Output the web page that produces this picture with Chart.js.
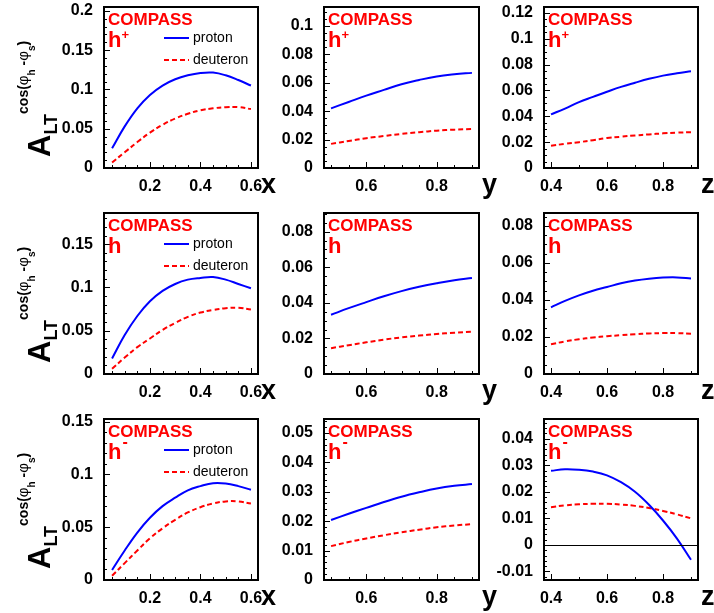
<!DOCTYPE html>
<html>
<head>
<meta charset="utf-8">
<script src="https://cdn.jsdelivr.net/npm/chart.js@4.4.0/dist/chart.umd.min.js"></script>
<style>
  html, body { margin: 0; padding: 0; background: #fff; overflow: hidden; }
  #wrap { position: relative; width: 714px; height: 613px; }
  #wrap canvas { position: absolute; }
</style>
</head>
<body>
<div id="wrap"></div>
<script>
// kinematic grids the curves are sampled on
const xGrid = [0.05, 0.10, 0.15, 0.20, 0.25, 0.30, 0.35, 0.40, 0.45, 0.50, 0.55, 0.60];
const yGrid = [0.50, 0.55, 0.60, 0.65, 0.70, 0.75, 0.80, 0.85, 0.90];
const zGrid = [0.40, 0.45, 0.50, 0.55, 0.60, 0.65, 0.70, 0.75, 0.80, 0.85, 0.90];

// h+
const hPlusProtonX    = [0.025, 0.053, 0.076, 0.093, 0.105, 0.113, 0.118, 0.121, 0.1215, 0.118, 0.112, 0.105];
const hPlusDeuteronX  = [0.007, 0.020, 0.033, 0.045, 0.055, 0.063, 0.069, 0.0735, 0.076, 0.0775, 0.0775, 0.075];
const hPlusProtonY    = [0.042, 0.0465, 0.051, 0.055, 0.059, 0.062, 0.0645, 0.066, 0.067];
const hPlusDeuteronY  = [0.017, 0.019, 0.021, 0.0225, 0.024, 0.0252, 0.0263, 0.027, 0.0275];
const hPlusProtonZ    = [0.0415, 0.046, 0.051, 0.055, 0.059, 0.0628, 0.066, 0.069, 0.0715, 0.0733, 0.0748];
const hPlusDeuteronZ  = [0.0173, 0.0187, 0.020, 0.0215, 0.0232, 0.0242, 0.0252, 0.026, 0.0268, 0.0274, 0.0277];

// h (all charged hadrons)
const hProtonX    = [0.018, 0.045, 0.067, 0.084, 0.096, 0.104, 0.109, 0.111, 0.112, 0.109, 0.104, 0.099];
const hDeuteronX  = [0.006, 0.019, 0.031, 0.041, 0.051, 0.059, 0.066, 0.071, 0.074, 0.076, 0.0765, 0.0745];
const hProtonY    = [0.0333, 0.037, 0.0404, 0.0437, 0.0466, 0.049, 0.051, 0.0527, 0.0539];
const hDeuteronY  = [0.0145, 0.0162, 0.0178, 0.0193, 0.0206, 0.0216, 0.0225, 0.0232, 0.0238];
const hProtonZ    = [0.036, 0.0395, 0.0425, 0.045, 0.047, 0.049, 0.0505, 0.0515, 0.0521, 0.0522, 0.0516];
const hDeuteronZ  = [0.0161, 0.0176, 0.0188, 0.0197, 0.0204, 0.021, 0.0215, 0.0219, 0.0221, 0.0221, 0.0218];

// h-
const hMinusProtonX   = [0.0095, 0.028, 0.045, 0.059, 0.070, 0.078, 0.085, 0.089, 0.0918, 0.0915, 0.089, 0.0855];
const hMinusDeuteronX = [0.004, 0.016, 0.028, 0.0395, 0.049, 0.057, 0.064, 0.069, 0.0725, 0.0745, 0.0745, 0.0725];
const hMinusProtonY   = [0.0204, 0.0225, 0.0245, 0.0265, 0.0283, 0.0298, 0.0311, 0.032, 0.0326];
const hMinusDeuteronY = [0.0115, 0.0129, 0.0141, 0.0152, 0.0162, 0.0171, 0.0179, 0.0185, 0.019];
const hMinusProtonZ   = [0.0279, 0.0285, 0.0283, 0.0276, 0.0262, 0.0236, 0.0200, 0.0151, 0.0092, 0.0024, -0.0056];
const hMinusDeuteronZ = [0.0142, 0.0149, 0.0153, 0.0155, 0.0155, 0.0152, 0.0147, 0.0139, 0.0128, 0.0115, 0.0100];

// tick labels
const xTicks = [0.2, 0.4, 0.6];
const yTicks = [0.6, 0.8];
const zTicks = [0.4, 0.6, 0.8];
const asymTicksR1 = [[0, 0.05, 0.1, 0.15, 0.2], [0, 0.02, 0.04, 0.06, 0.08, 0.1], [0, 0.02, 0.04, 0.06, 0.08, 0.1, 0.12]];
const asymTicksR2 = [[0, 0.05, 0.1, 0.15], [0, 0.02, 0.04, 0.06, 0.08], [0, 0.02, 0.04, 0.06, 0.08]];
const asymTicksR3 = [[0, 0.05, 0.1, 0.15], [0, 0.01, 0.02, 0.03, 0.04, 0.05], [-0.01, 0, 0.01, 0.02, 0.03, 0.04]];

const FONT = '"Liberation Sans", Arial, Helvetica, sans-serif';

// pad geometry
const frameLeft = [104, 324, 544], frameRight = [258, 479, 698];
const frameTop = [7, 213, 419], frameBottom = [168, 374, 580];
const canvasLeft = [0, 264, 484], canvasRight = [290, 504, 714];
const TOP_PAD = 7, X_BOX = 38;

const cols = [
  { grid: xGrid, ticks: xTicks, minor: 4, min: 0.018, max: 0.628, letter: 'x' },
  { grid: yGrid, ticks: yTicks, minor: 4, min: 0.48, max: 0.92, letter: 'y' },
  { grid: zGrid, ticks: zTicks, minor: 2, min: 0.375, max: 0.925, letter: 'z' }
];

const panels = [
  { row: 0, col: 0, p: hPlusProtonX, d: hPlusDeuteronX, yMin: 0, yMax: 0.205, yTicks: asymTicksR1[0], yMinor: 5 },
  { row: 0, col: 1, p: hPlusProtonY, d: hPlusDeuteronY, yMin: 0, yMax: 0.1134, yTicks: asymTicksR1[1], yMinor: 4 },
  { row: 0, col: 2, p: hPlusProtonZ, d: hPlusDeuteronZ, yMin: 0, yMax: 0.1246, yTicks: asymTicksR1[2], yMinor: 4 },
  { row: 1, col: 0, p: hProtonX, d: hDeuteronX, yMin: 0, yMax: 0.186, yTicks: asymTicksR2[0], yMinor: 5 },
  { row: 1, col: 1, p: hProtonY, d: hDeuteronY, yMin: 0, yMax: 0.0905, yTicks: asymTicksR2[1], yMinor: 4 },
  { row: 1, col: 2, p: hProtonZ, d: hDeuteronZ, yMin: 0, yMax: 0.087, yTicks: asymTicksR2[2], yMinor: 4 },
  { row: 2, col: 0, p: hMinusProtonX, d: hMinusDeuteronX, yMin: 0, yMax: 0.1526, yTicks: asymTicksR3[0], yMinor: 5 },
  { row: 2, col: 1, p: hMinusProtonY, d: hMinusDeuteronY, yMin: 0, yMax: 0.0547, yTicks: asymTicksR3[1], yMinor: 5 },
  { row: 2, col: 2, p: hMinusProtonZ, d: hMinusDeuteronZ, yMin: -0.0132, yMax: 0.0474, yTicks: asymTicksR3[2], yMinor: 5 }
];
const hadronSign = ['+', '', '-'];

const fmt = v => String(parseFloat(Number(v).toFixed(4)));
const pts = (grid, vals) => grid.map((x, i) => ({ x: x, y: vals[i] }));

function line(ctx, x1, y1, x2, y2) {
  ctx.beginPath(); ctx.moveTo(x1, y1); ctx.lineTo(x2, y2); ctx.stroke();
}

function minorValues(ticks, div, min, max) {
  const step = (ticks[1] - ticks[0]) / div;
  const out = [];
  let v = ticks[0] - Math.floor((ticks[0] - min) / step + 1e-9) * step;
  for (; v <= max + 1e-9; v += step) {
    if (!ticks.some(t => Math.abs(t - v) < step * 0.01)) out.push(v);
  }
  return out;
}

// A_LT^{cos(phi_h - phi_s)} written bottom-to-top
function drawYTitle(ctx, x, y) {
  ctx.save();
  ctx.translate(x, y);
  ctx.rotate(-Math.PI / 2);
  ctx.fillStyle = '#000';
  ctx.textBaseline = 'alphabetic';
  ctx.textAlign = 'left';
  let pos = 0;
  const put = (txt, size, dy, weight) => {
    ctx.font = (weight || 'bold') + ' ' + size + 'px ' + FONT;
    ctx.fillText(txt, pos, dy);
    pos += ctx.measureText(txt).width;
  };
  put('A', 31, 0);
  put('LT', 18, 7);
  put('cos(', 14, -22);
  put('\u03c6', 15, -22, 'normal');
  put('h', 10, -15);
  put(' -', 14, -22);
  put('\u03c6', 15, -22, 'normal');
  put('s', 10, -15);
  put(')', 14, -22);
  ctx.restore();
}

const rootFrame = {
  id: 'rootFrame',
  afterDraw(chart, args, o) {
    const { ctx, chartArea: a, scales } = chart;
    const xs = scales.x, ys = scales.y;
    ctx.save();
    ctx.strokeStyle = '#000';
    ctx.fillStyle = '#000';

    if (ys.min < 0) {
      ctx.lineWidth = 1;
      const y0 = Math.round(ys.getPixelForValue(0)) + 0.5;
      line(ctx, a.left, y0, a.right, y0);
    }

    // inward ticks on the bottom and left edges
    ctx.lineWidth = 1;
    xs.ticks.forEach(t => {
      const px = Math.round(xs.getPixelForValue(t.value)) + 0.5;
      line(ctx, px, a.bottom, px, a.bottom - 6);
    });
    minorValues(o.xTicks, o.xMinor, xs.min, xs.max).forEach(v => {
      const px = Math.round(xs.getPixelForValue(v)) + 0.5;
      line(ctx, px, a.bottom, px, a.bottom - 3);
    });
    ys.ticks.forEach(t => {
      const py = Math.round(ys.getPixelForValue(t.value)) + 0.5;
      line(ctx, a.left, py, a.left + 6, py);
    });
    minorValues(o.yTicks, o.yMinor, ys.min, ys.max).forEach(v => {
      const py = Math.round(ys.getPixelForValue(v)) + 0.5;
      line(ctx, a.left, py, a.left + 3, py);
    });

    ctx.lineWidth = 2;
    ctx.strokeRect(a.left, a.top, a.right - a.left, a.bottom - a.top);

    // experiment and hadron labels
    ctx.fillStyle = '#ff0000';
    ctx.textAlign = 'left';
    ctx.textBaseline = 'alphabetic';
    ctx.font = 'bold 17px ' + FONT;
    ctx.fillText('COMPASS', a.left + 4, a.top + 18);
    ctx.font = 'bold 22px ' + FONT;
    ctx.fillText('h', a.left + 4, a.top + 40);
    const hw = ctx.measureText('h').width;
    if (o.sign === '+') {
      ctx.font = 'bold 13px ' + FONT;
      ctx.fillText('+', a.left + 4 + hw, a.top + 32);
    } else if (o.sign === '-') {
      ctx.font = 'bold 16px ' + FONT;
      ctx.fillText('-', a.left + 4 + hw + 1, a.top + 28);
    }

    // legend in the x panels
    if (o.legend) {
      chart.data.datasets.forEach((ds, i) => {
        const ly = a.top + 31 + i * 22;
        ctx.strokeStyle = ds.borderColor;
        ctx.lineWidth = ds.borderWidth;
        ctx.setLineDash(ds.borderDash || []);
        line(ctx, a.left + 60, ly, a.left + 85, ly);
        ctx.setLineDash([]);
        ctx.fillStyle = '#000';
        ctx.font = '14px ' + FONT;
        ctx.textBaseline = 'middle';
        ctx.fillText(ds.label, a.left + 89, ly);
      });
      drawYTitle(ctx, 50, a.bottom - 11);
    }

    // axis variable
    ctx.fillStyle = '#000';
    ctx.textBaseline = 'alphabetic';
    ctx.font = 'bold 27px ' + FONT;
    ctx.fillText(o.letter, a.right + 3, a.bottom + 25);
    ctx.restore();
  }
};

const wrap = document.getElementById('wrap');
panels.forEach(pn => {
  const c = cols[pn.col];
  const W = canvasRight[pn.col] - canvasLeft[pn.col];
  const H = frameBottom[pn.row] - frameTop[pn.row] + TOP_PAD + X_BOX;
  const cv = document.createElement('canvas');
  cv.width = W; cv.height = H;
  cv.style.width = W + 'px'; cv.style.height = H + 'px';
  cv.style.left = canvasLeft[pn.col] + 'px';
  cv.style.top = (frameTop[pn.row] - TOP_PAD) + 'px';
  wrap.appendChild(cv);

  const tickFont = { family: FONT, size: 16, weight: 'bold' };
  new Chart(cv, {
    type: 'line',
    data: {
      datasets: [
        { label: 'proton', data: pts(c.grid, pn.p), borderColor: '#0000ff', borderWidth: 2,
          pointRadius: 0, tension: 0.4, fill: false },
        { label: 'deuteron', data: pts(c.grid, pn.d), borderColor: '#ff0000', borderWidth: 2,
          borderDash: [5, 3], pointRadius: 0, tension: 0.4, fill: false }
      ]
    },
    options: {
      responsive: false,
      animation: false,
      devicePixelRatio: 1,
      events: [],
      layout: { padding: { left: 0, top: TOP_PAD, right: canvasRight[pn.col] - frameRight[pn.col], bottom: 0 } },
      plugins: {
        legend: { display: false },
        tooltip: { enabled: false },
        rootFrame: {
          xTicks: c.ticks, xMinor: c.minor, yTicks: pn.yTicks, yMinor: pn.yMinor,
          sign: hadronSign[pn.row], letter: c.letter, legend: pn.col === 0
        }
      },
      scales: {
        x: {
          type: 'linear', min: c.min, max: c.max,
          grid: { display: false }, border: { display: false },
          afterBuildTicks: s => { s.ticks = c.ticks.map(v => ({ value: v })); },
          afterFit: s => { s.height = X_BOX; s.paddingLeft = 0; s.paddingRight = 0; },
          ticks: { font: tickFont, color: '#000', padding: 1, maxRotation: 0, autoSkip: false, callback: fmt }
        },
        y: {
          type: 'linear', min: pn.yMin, max: pn.yMax,
          grid: { display: false }, border: { display: false },
          afterBuildTicks: s => { s.ticks = pn.yTicks.map(v => ({ value: v })); },
          afterFit: s => { s.width = frameLeft[pn.col] - canvasLeft[pn.col]; s.paddingTop = 0; s.paddingBottom = 0; },
          ticks: { font: tickFont, color: '#000', padding: 3, autoSkip: false, callback: fmt }
        }
      }
    },
    plugins: [rootFrame]
  });
});
</script>
</body>
</html>
